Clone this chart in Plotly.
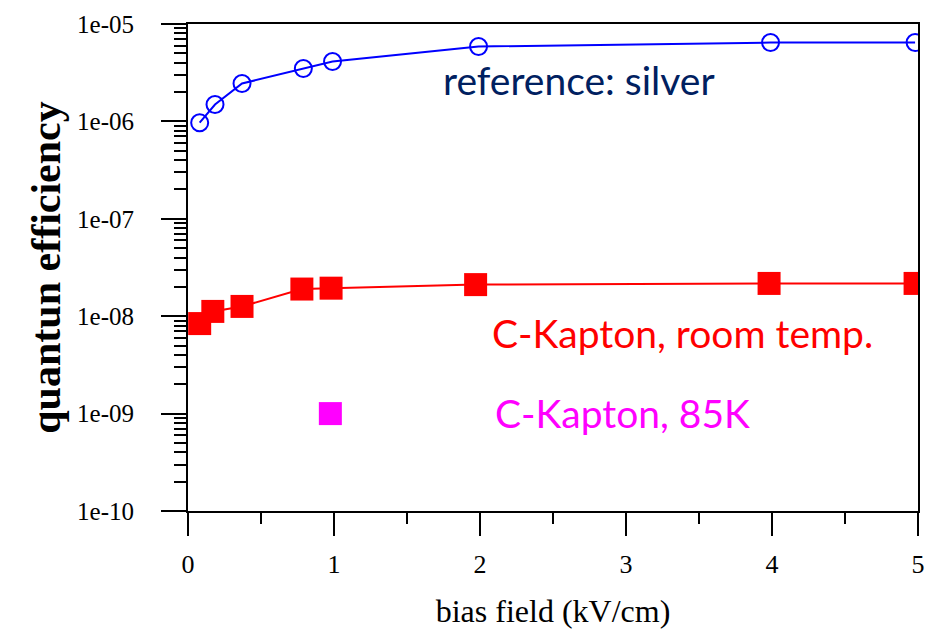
import plotly.graph_objects as go

# Data
silver_x = [0.08, 0.185, 0.37, 0.79, 0.99, 1.99, 3.99, 4.98]
silver_y = [9.7e-7, 1.49e-6, 2.45e-6, 3.49e-6, 4.12e-6, 5.87e-6, 6.45e-6, 6.45e-6]

kapton_rt_x = [0.08, 0.17, 0.37, 0.78, 0.98, 1.97, 3.98, 4.98]
kapton_rt_y = [8.4e-9, 1.12e-8, 1.26e-8, 1.90e-8, 1.94e-8, 2.11e-8, 2.17e-8, 2.17e-8]

kapton_85k_x = [0.975]
kapton_85k_y = [1.0e-9]

y_major = [1e-10, 1e-9, 1e-8, 1e-7, 1e-6, 1e-5]
y_major_text = ["1e-10", "1e-09", "1e-08", "1e-07", "1e-06", "1e-05"]
x_major = [0, 1, 2, 3, 4, 5]
x_minor = [0.5, 1.5, 2.5, 3.5, 4.5]
y_minor = [m * d for d in [1e-10, 1e-9, 1e-8, 1e-7, 1e-6] for m in range(2, 10)]

fig = go.Figure()
fig.add_trace(go.Scatter(
    x=silver_x, y=silver_y, mode="lines+markers",
    line=dict(color="#0000FF", width=2),
    marker=dict(symbol="circle-open", size=17, color="#0000FF", line=dict(width=2)),
    showlegend=False))
fig.add_trace(go.Scatter(
    x=kapton_rt_x, y=kapton_rt_y, mode="lines+markers",
    line=dict(color="#FF0000", width=2),
    marker=dict(symbol="square", size=23, color="#FF0000"),
    showlegend=False))
fig.add_trace(go.Scatter(
    x=kapton_85k_x, y=kapton_85k_y, mode="markers",
    marker=dict(symbol="square", size=23, color="#FF00FF"),
    showlegend=False))

serif = "Liberation Serif, Times New Roman, serif"
ann_font = "Lato, Carlito, Calibri, sans-serif"

fig.add_annotation(x=1.733, y=-5.57, xref="x", yref="y", text="reference: silver",
                   showarrow=False, xanchor="left", yanchor="middle",
                   font=dict(family=ann_font, size=39, color="#002060"))
fig.add_annotation(x=2.068, y=-8.171, xref="x", yref="y", text="C-Kapton, room temp.",
                   showarrow=False, xanchor="left", yanchor="middle",
                   font=dict(family=ann_font, size=39, color="#FF0000"))
fig.add_annotation(x=2.089, y=-8.993, xref="x", yref="y", text="C-Kapton, 85K",
                   showarrow=False, xanchor="left", yanchor="middle",
                   font=dict(family=ann_font, size=39, color="#FF00FF"))

fig.update_xaxes(
    range=[0, 5], showgrid=False, zeroline=False, automargin=False,
    showline=True, linecolor="black", linewidth=2, mirror=True,
    tickmode="array", tickvals=x_major, ticktext=[str(v) for v in x_major],
    ticks="outside", ticklen=23, tickwidth=2, tickcolor="black",
    minor=dict(tickmode="array", tickvals=x_minor, ticks="outside", ticklen=11,
               tickwidth=2, tickcolor="black", showgrid=False),
    tickfont=dict(family=serif, size=26, color="black"),
    ticklabelstandoff=6,
    title=dict(text="bias field (kV/cm)", font=dict(family=serif, size=32, color="black"),
               standoff=21),
)
fig.update_yaxes(
    type="log", range=[-10, -5], showgrid=False, zeroline=False, automargin=False,
    showline=True, linecolor="black", linewidth=2, mirror=True,
    tickmode="array", tickvals=y_major, ticktext=y_major_text,
    ticks="outside", ticklen=25, tickwidth=2, tickcolor="black",
    minor=dict(tickmode="array", tickvals=y_minor, ticks="outside", ticklen=12,
               tickwidth=2, tickcolor="black", showgrid=False),
    tickfont=dict(family=serif, size=25, color="black"),
    ticklabelstandoff=22,
    title=dict(text="<b>quantun efficiency</b>", font=dict(family=serif, size=42, color="black"),
               standoff=3),
)

fig.update_layout(
    width=927, height=631,
    margin=dict(l=188, r=9, t=24, b=120),
    paper_bgcolor="white", plot_bgcolor="white",
)

fig.write_html(
    "out.html",
    config={"displayModeBar": False},
    post_script="document.body.style.margin='0';document.body.style.overflow='hidden';",
)
